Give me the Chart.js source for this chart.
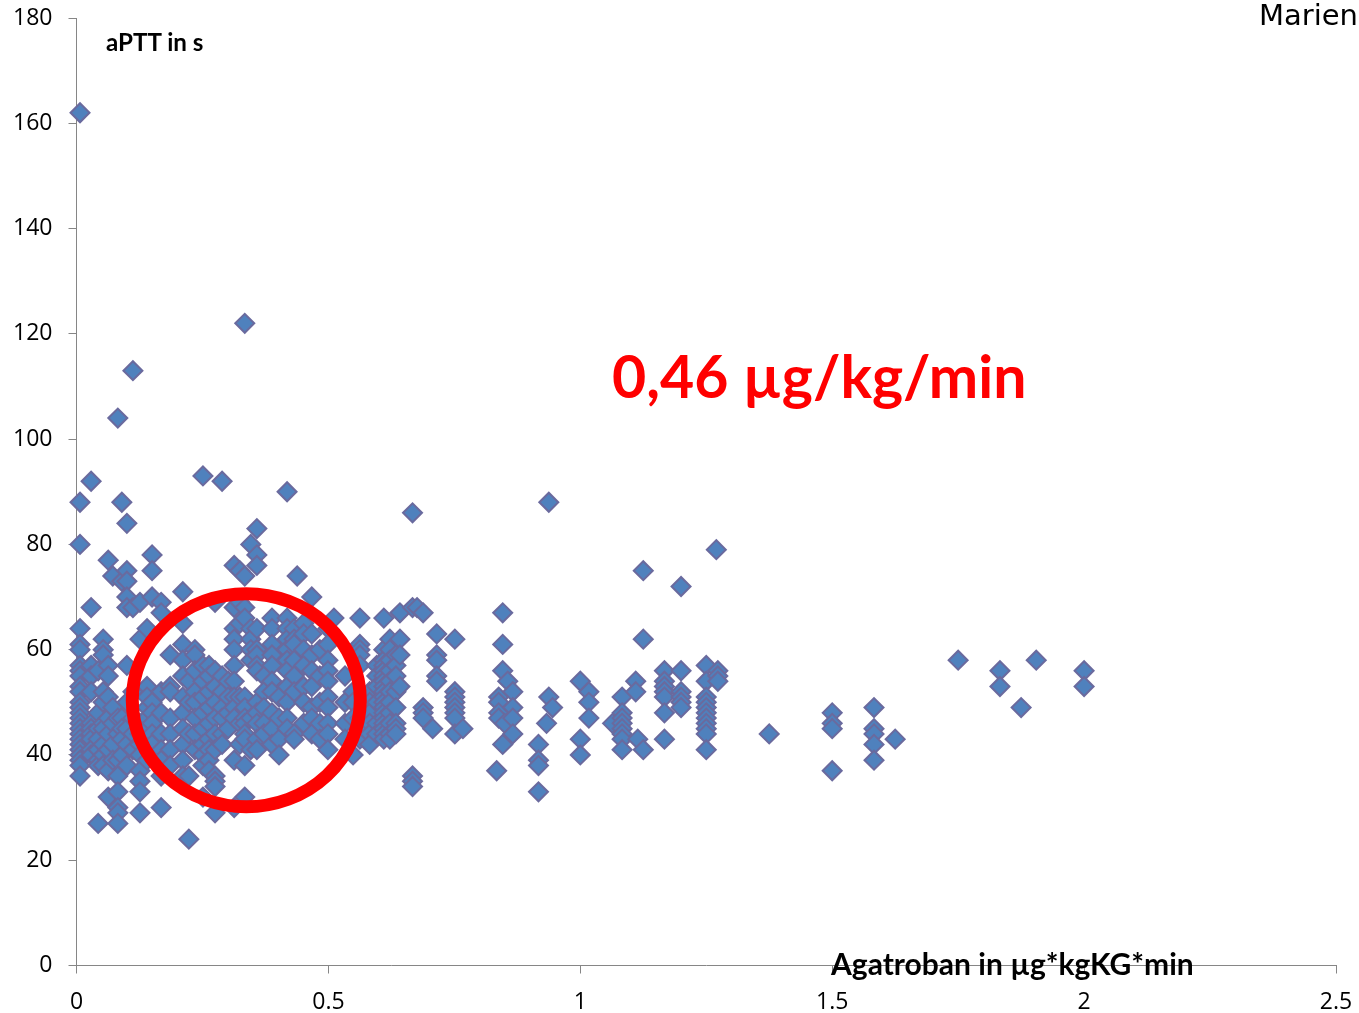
<!DOCTYPE html>
<html>
<head>
<meta charset="utf-8">
<title>Marien</title>
<script src="https://cdn.jsdelivr.net/npm/chart.js@4"></script>
<style>
  html, body { margin: 0; padding: 0; background: #fff; }
  #wrap { position: relative; width: 1359px; height: 1013px; overflow: hidden; }
  .note { position: absolute; white-space: nowrap; line-height: 1; color: #000; }
  #site { right: 1px; top: -2px; font: 29px "DejaVu Sans", sans-serif; }
  #yname { left: 106px; top: 27px; font: bold 24.2px Lato, sans-serif; }
  #xname { left: 831px; top: 945px; font: bold 30px Lato, sans-serif; }
  #dose { left: 612px; top: 340px; font: bold 59px Lato, sans-serif; color: #f00; }
</style>
</head>
<body>
<div id="wrap">
  <canvas id="chart-aptt" width="1359" height="1013"></canvas>
  <div class="note" id="site">Marien</div>
  <div class="note" id="yname">aPTT in s</div>
  <div class="note" id="xname">Agatroban in µg*kgKG*min</div>
  <div class="note" id="dose">0,46 µg/kg/min</div>
</div>
<script>
  // Agatroban dose per column of points, and the aPTT values read at that dose
  var doses = [
    0.007, 0.029, 0.043, 0.053, 0.063, 0.072, 0.082, 0.09, 0.1, 0.112,
    0.126, 0.14, 0.15, 0.168, 0.186, 0.211, 0.223, 0.235, 0.251, 0.263,
    0.275, 0.289, 0.301, 0.313, 0.324, 0.334, 0.346, 0.358, 0.372, 0.388,
    0.402, 0.418, 0.432, 0.438, 0.451, 0.467, 0.483, 0.499, 0.511, 0.533,
    0.549, 0.5625, 0.582, 0.596, 0.61, 0.622, 0.634, 0.642, 0.667, 0.676,
    0.688, 0.707, 0.715, 0.751, 0.767, 0.834, 0.838, 0.846, 0.85, 0.856,
    0.866, 0.917, 0.933, 0.9375, 0.945, 1.0, 1.017, 1.064, 1.083, 1.11,
    1.114, 1.125, 1.167, 1.2, 1.25, 1.27, 1.273, 1.375, 1.5, 1.583,
    1.625, 1.75, 1.833, 1.875, 1.905, 2.0
  ];
  var apttValues = [
    [162, 88, 80, 64, 61, 60, 57, 56, 55, 53, 52, 50, 49, 48, 47, 46, 45, 44, 43, 42, 41, 40, 39, 38, 36],
    [92, 68, 57, 55, 52, 46, 45, 44, 43, 41, 40],
    [27, 56, 48, 45, 43, 41, 39, 38],
    [62, 60, 59, 52, 50, 46, 45, 42, 40, 38],
    [77, 57, 55, 51, 47, 44, 41, 37, 32],
    [74, 49, 46, 42, 39],
    [104, 47, 44, 39, 36, 33, 30, 29, 27],
    [88, 73, 47, 45, 43, 40],
    [84, 75, 73, 70, 68, 57, 50, 45, 42, 38],
    [113, 68, 52, 47, 44, 41],
    [69, 62, 46, 44, 42, 40, 37, 35, 33, 29],
    [64, 53, 51, 49, 47, 45, 43, 39],
    [78, 75, 70, 50, 48, 46, 44, 42],
    [69, 67, 52, 48, 44, 41, 39, 36, 30],
    [59, 53, 52, 47, 44, 41, 38],
    [71, 65, 61, 58, 55, 51, 48, 45, 42, 39, 36],
    [24, 54, 50, 44, 36],
    [60, 59, 56, 52, 50, 47, 44, 41],
    [93, 57, 54, 51, 48, 45, 42, 40, 38, 32],
    [57, 55, 52, 49, 46, 43, 41, 39, 37],
    [69, 56, 53, 50, 47, 44, 41, 36, 35, 34, 29],
    [92, 55, 52, 49, 47, 44, 42],
    [54, 51, 48, 45],
    [76, 68, 64, 62, 60, 57, 54, 51, 49, 47, 39, 30],
    [75, 69, 65, 51, 46, 42],
    [122, 74, 68, 66, 51, 49, 47, 46, 44, 43, 38, 32],
    [80, 64, 62, 60, 58, 47, 41],
    [83, 78, 76, 64, 60, 59, 57, 56, 50, 48, 46, 43, 41],
    [55, 52, 49, 46, 44],
    [66, 64, 61, 59, 57, 54, 52, 48, 45, 42],
    [51, 47, 43, 40],
    [90, 66, 64, 62, 60, 58, 56, 53, 50, 47, 45],
    [64, 62, 61, 58, 55, 52, 44, 43],
    [74],
    [65, 63, 60, 57, 53, 50, 46],
    [70, 63, 59, 56, 53, 49, 47, 44],
    [60, 55, 50, 46, 43],
    [64, 61, 58, 56, 54, 51, 49, 46, 44, 41],
    [66],
    [55, 50, 46, 43],
    [52, 50, 47, 40],
    [66, 61, 60, 59, 57, 47, 45, 43],
    [52, 50, 48, 46, 44, 42],
    [57, 55, 53, 50, 46, 44],
    [66, 60, 58, 57, 56, 55, 54, 53, 52, 51, 50, 49, 48, 47, 46, 45, 44, 43],
    [62, 60, 58, 56, 54, 52, 50, 48, 46, 44, 43],
    [59, 57, 55, 52, 49, 46, 45, 44],
    [67, 62, 59, 53],
    [86, 68, 36, 35, 34],
    [68],
    [67, 49, 48, 47],
    [45],
    [63, 59, 58, 55, 54],
    [62, 52, 51, 50, 49, 48, 47, 44],
    [45],
    [37],
    [51, 50, 48, 47],
    [67, 61, 56, 42],
    [46],
    [54],
    [52, 49, 47, 44],
    [42, 39, 38, 33],
    [46],
    [88, 51],
    [49],
    [54, 43, 40],
    [52, 50, 47],
    [46],
    [51, 48, 47, 46, 45, 44, 43, 41],
    [54, 52],
    [43],
    [75, 62, 41],
    [56, 54, 53, 52, 51, 48, 43],
    [72, 56, 52, 51, 50, 49],
    [57, 54, 51, 50, 49, 48, 47, 46, 45, 44, 41],
    [79],
    [56, 55, 54],
    [44],
    [48, 46, 45, 37],
    [49, 45, 44, 42, 39],
    [43],
    [58],
    [56, 53],
    [49],
    [58],
    [56, 53]
  ];
  var xTicks = [0, 0.5, 1, 1.5, 2, 2.5];
  var yTicks = [0, 20, 40, 60, 80, 100, 120, 140, 160, 180];

  var points = [];
  doses.forEach(function (dose, i) {
    apttValues[i].forEach(function (aptt) {
      points.push({ x: dose, y: aptt });
    });
  });

  var AXIS_GREY = '#868686';
  var TICK_FONT = { family: "'Open Sans', sans-serif", size: 23 };

  // Red ring around the cloud of points
  var ringPlugin = {
    id: 'ring',
    afterDatasetsDraw: function (chart) {
      var ctx = chart.ctx;
      ctx.save();
      ctx.beginPath();
      ctx.ellipse(chart.scales.x.getPixelForValue(0.337), chart.scales.y.getPixelForValue(50.4), 114, 106.5, 0, 0, Math.PI * 2);
      ctx.lineWidth = 13;
      ctx.strokeStyle = '#f00';
      ctx.stroke();
      ctx.restore();
    }
  };

  new Chart(document.getElementById('chart-aptt').getContext('2d'), {
    type: 'scatter',
    data: {
      datasets: [{
        data: points,
        pointStyle: 'rectRot',
        pointRadius: 9.5,
        pointBorderWidth: 2,
        pointBackgroundColor: '#4F81BD',
        pointBorderColor: '#6A6A9E',
        clip: false
      }]
    },
    plugins: [ringPlugin],
    options: {
      responsive: false,
      animation: false,
      plugins: { legend: { display: false }, tooltip: { enabled: false } },
      scales: {
        x: {
          type: 'linear',
          min: 0,
          max: 2.5,
          afterFit: function (scale) { scale.height = 47.5; scale.paddingRight = 23; },
          afterBuildTicks: function (scale) { scale.ticks = xTicks.map(function (v) { return { value: v }; }); },
          border: { color: AXIS_GREY },
          grid: { drawOnChartArea: false, color: AXIS_GREY, tickLength: 8 },
          ticks: { color: '#000', font: TICK_FONT, padding: 15, maxRotation: 0, callback: function (v) { return String(v); } }
        },
        y: {
          min: 0,
          max: 180,
          afterFit: function (scale) { scale.width = 76.5; scale.paddingTop = 18; },
          afterBuildTicks: function (scale) { scale.ticks = yTicks.map(function (v) { return { value: v }; }); },
          border: { color: AXIS_GREY },
          grid: { drawOnChartArea: false, color: AXIS_GREY, tickLength: 8 },
          ticks: { color: '#000', font: TICK_FONT, padding: 16 }
        }
      }
    }
  });
</script>
</body>
</html>
